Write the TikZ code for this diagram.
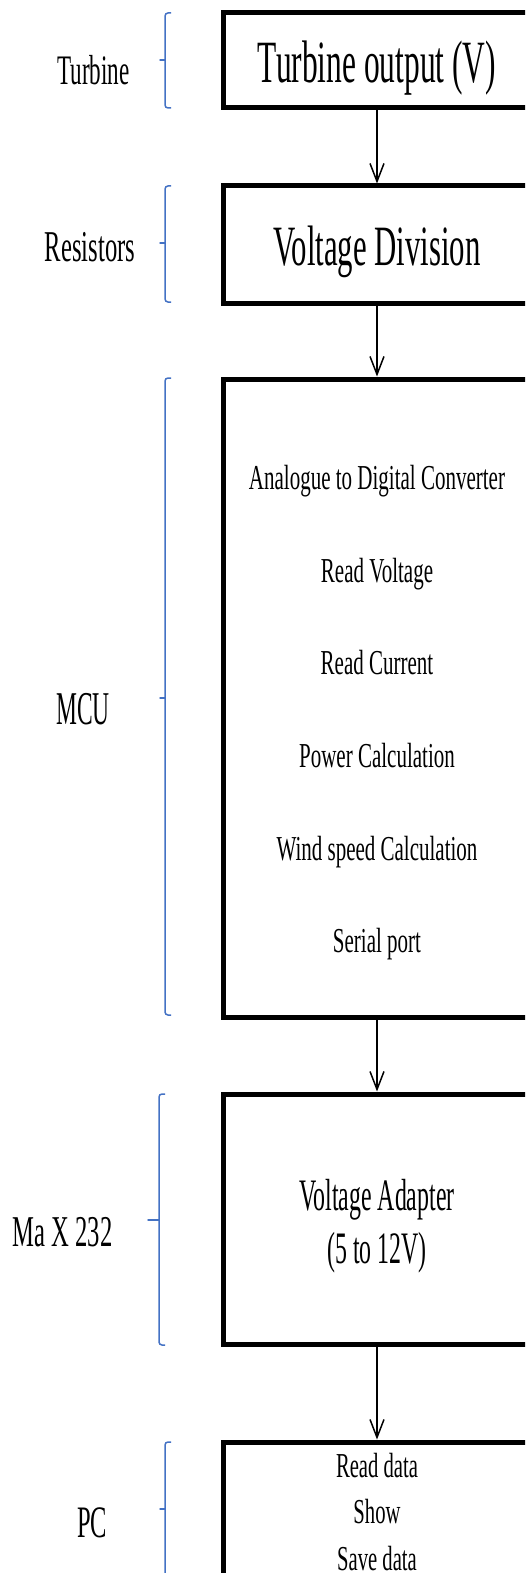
\documentclass[tikz,border=0pt]{standalone}
\usepackage{fontspec}
\usepackage{graphicx}
\setmainfont{Liberation Serif}
\usetikzlibrary{arrows.meta}
\definecolor{braceblue}{RGB}{68,114,196}
% condensed text: size (pt), horizontal squeeze, content
\newcommand{\sqtext}[3]{\fontsize{#1}{#1}\selectfont\scalebox{#2}[1]{#3}}
% left curly brace: x, top, middle, bottom, tick length
\newcommand{\sidebrace}[5]{%
  \draw[brc] (#1+6,#2) -- (#1,#2) -- (#1,#4) -- (#1+6,#4);
  \draw[brc,rounded corners=0pt,line cap=round] (#1,#3) -- (#1-#5,#3);}
\begin{document}
\begin{tikzpicture}[x=1pt,y=-1pt,
  block/.style={draw=black,line width=5pt,fill=white,minimum width=308pt,inner sep=0pt},
  flow/.style={line width=1.5pt,-{Straight Barb[length=18pt,width=14pt,line width=1.5pt]}},
  brc/.style={draw=braceblue,line width=1.5pt,rounded corners=3pt},
  txt/.style={inner sep=0pt,anchor=base}]
\useasboundingbox (0,0) rectangle (525,1573);
\clip (0,0) rectangle (525,1573);

% blocks
\node[block,minimum height=95pt]  (turb) at (377,60.5) {};
\node[block,minimum height=117pt] (div)  at (377,244.5) {};
\node[block,minimum height=638pt] (mcu)  at (377,698) {};
\node[block,minimum height=250pt] (max)  at (377,1219) {};
\node[block,minimum height=220pt] (pc)   at (377,1552) {};

% block texts
\node[txt] (t1) at (377,83)  {\sqtext{60}{0.524}{Turbine output (V)}};
\node[txt] (t2) at (377,265) {\sqtext{57}{0.54}{Voltage Division}};

\node[txt] (m1) at (377,489) {\sqtext{35}{0.6}{Analogue to Digital Converter}};
\node[txt] (m2) at (377,582) {\sqtext{35}{0.6}{Read Voltage}};
\node[txt] (m3) at (377,674) {\sqtext{35}{0.6}{Read Current}};
\node[txt] (m4) at (377,767) {\sqtext{35}{0.6}{Power Calculation}};
\node[txt] (m5) at (377,860) {\sqtext{35}{0.6}{Wind speed Calculation}};
\node[txt] (m6) at (377,952) {\sqtext{35}{0.6}{Serial port}};

\node[txt] (a1) at (377,1210) {\sqtext{45}{0.53}{Voltage Adapter}};
\node[txt] (a2) at (377,1263) {\sqtext{45}{0.53}{(5 to 12V)}};

\node[txt] (p1) at (377,1477) {\sqtext{35}{0.59}{Read data}};
\node[txt] (p2) at (377,1523) {\sqtext{35}{0.59}{Show}};
\node[txt] (p3) at (377,1570) {\sqtext{35}{0.59}{Save data}};

% connectors
\draw[flow] (turb.south) -- (div.north);
\draw[flow] (div.south) -- (mcu.north);
\draw[flow] (mcu.south) -- (max.north);
\draw[flow] (max.south) -- (pc.north);

% side labels
\node[txt] (l1) at (93.5,85)  {\sqtext{42}{0.55}{Turbine}};
\node[txt] (l2) at (90,261)   {\sqtext{44}{0.56}{Resistors}};
\node[txt] (l3) at (83,724)   {\sqtext{47}{0.5}{MCU}};
\node[txt] (l4) at (62.5,1246){\sqtext{44}{0.56}{Ma X 232}};
\node[txt] (l5) at (92,1537)  {\sqtext{45}{0.545}{PC}};

% braces
\sidebrace{165}{13}{60}{108}{5}
\sidebrace{165}{186}{243}{302}{5}
\sidebrace{165}{378}{698}{1015}{5}
\sidebrace{159}{1094}{1220}{1345}{11}
\sidebrace{165}{1442}{1509}{1700}{5}
\end{tikzpicture}
\end{document}
